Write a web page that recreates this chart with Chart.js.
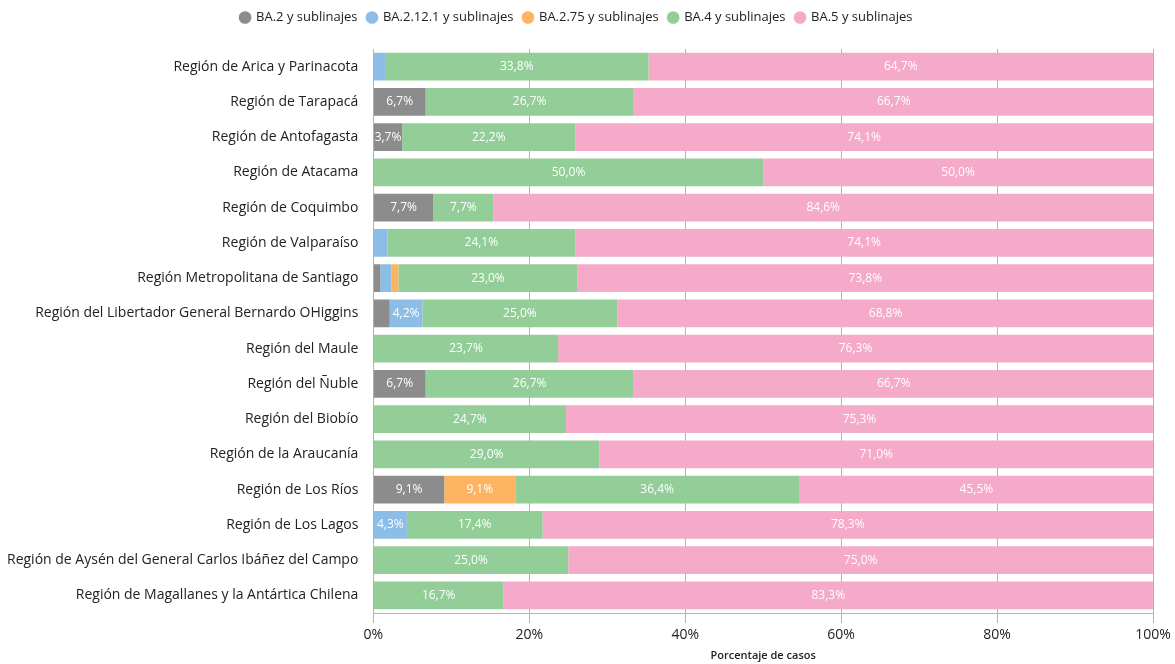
<!DOCTYPE html>
<html>
<head>
<meta charset="utf-8">
<script src="https://cdn.jsdelivr.net/npm/chart.js@4"></script>
<style>
  html, body { margin: 0; padding: 0; background: #fff; }
  #wrap { width: 1175px; height: 664px; }
</style>
</head>
<body>
<div id="wrap"><canvas id="variantChart"></canvas></div>
<script>
const regions = [
    'Región de Arica y Parinacota',
    'Región de Tarapacá',
    'Región de Antofagasta',
    'Región de Atacama',
    'Región de Coquimbo',
    'Región de Valparaíso',
    'Región Metropolitana de Santiago',
    'Región del Libertador General Bernardo OHiggins',
    'Región del Maule',
    'Región del Ñuble',
    'Región del Biobío',
    'Región de la Araucanía',
    'Región de Los Ríos',
    'Región de Los Lagos',
    'Región de Aysén del General Carlos Ibáñez del Campo',
    'Región de Magallanes y la Antártica Chilena'
];

const ba2 =     [0,   6.7, 3.7, 0,  7.7, 0,   0.9, 2.1, 0,    6.7, 0,    0,    9.1, 0,   0,  0];
const ba2121 =  [1.5, 0,   0,   0,  0,   1.8, 1.4, 4.2, 0,    0,   0,    0,    0,   4.3, 0,  0];
const ba275 =   [0,   0,   0,   0,  0,   0,   0.9, 0,   0,    0,   0,    0,    9.1, 0,   0,  0];
const ba4 =     [33.8, 26.7, 22.2, 50, 7.7, 24.1, 23.0, 25.0, 23.7, 26.7, 24.7, 29.0, 36.4, 17.4, 25, 16.7];
const ba5 =     [64.7, 66.7, 74.1, 50, 84.6, 74.1, 73.8, 68.8, 76.3, 66.7, 75.3, 71.0, 45.5, 78.3, 75, 83.3];

const xTicks = [0, 20, 40, 60, 80, 100];

const fontFamily = '"Open Sans", "Noto Sans", sans-serif';

// white percentage labels inside the wider segments
const segmentLabels = {
    id: 'segmentLabels',
    afterDatasetsDraw(chart) {
        const ctx = chart.ctx;
        ctx.save();
        ctx.font = '12px ' + fontFamily;
        ctx.fillStyle = '#ffffff';
        ctx.textAlign = 'center';
        ctx.textBaseline = 'middle';
        chart.data.datasets.forEach((ds, di) => {
            const meta = chart.getDatasetMeta(di);
            meta.data.forEach((bar, i) => {
                const v = ds.data[i];
                if (!v || v < 3) return;
                const txt = v.toFixed(1).replace('.', ',') + '%';
                const mid = (bar.x + bar.base) / 2;
                ctx.fillText(txt, mid, bar.y);
            });
        });
        ctx.restore();
    }
};

// a bit more room between the legend and the bars
const legendGap = {
    id: 'legendGap',
    beforeInit(chart) {
        const fit = chart.legend.fit;
        chart.legend.fit = function () {
            fit.bind(chart.legend)();
            this.height += 15;
        };
    }
};

const ctx = document.getElementById('variantChart').getContext('2d');
new Chart(ctx, {
    type: 'bar',
    data: {
        labels: regions,
        datasets: [
            { label: 'BA.2 y sublinajes', data: ba2, backgroundColor: '#8c8c8c' },
            { label: 'BA.2.12.1 y sublinajes', data: ba2121, backgroundColor: '#8bbde6' },
            { label: 'BA.2.75 y sublinajes', data: ba275, backgroundColor: '#fdb35f' },
            { label: 'BA.4 y sublinajes', data: ba4, backgroundColor: '#93cd97' },
            { label: 'BA.5 y sublinajes', data: ba5, backgroundColor: '#f4aac8' }
        ]
    },
    options: {
        indexAxis: 'y',
        responsive: true,
        maintainAspectRatio: false,
        animation: false,
        layout: { padding: { left: 0, right: 22, top: 1, bottom: 2 } },
        datasets: {
            bar: { barPercentage: 0.79, categoryPercentage: 1.0, borderWidth: 0 }
        },
        scales: {
            x: {
                stacked: true,
                min: 0,
                max: 100,
                afterBuildTicks: axis => { axis.ticks = xTicks.map(v => ({ value: v })); },
                ticks: {
                    callback: v => v + '%',
                    color: '#222',
                    font: { family: fontFamily, size: 14 },
                    padding: 4
                },
                grid: { color: '#b3b3b3', tickLength: 10, drawTicks: true },
                border: { display: true, color: '#b3b3b3' },
                title: {
                    display: true,
                    text: 'Porcentaje de casos',
                    color: '#222',
                    font: { family: fontFamily, size: 11, weight: '600' },
                    padding: { top: 1, bottom: 0 }
                }
            },
            y: {
                stacked: true,
                ticks: {
                    color: '#222',
                    font: { family: fontFamily, size: 14 },
                    padding: 7
                },
                grid: { display: false },
                border: { display: false }
            }
        },
        plugins: {
            legend: {
                position: 'top',
                labels: {
                    usePointStyle: true,
                    pointStyle: 'circle',
                    boxWidth: 9,
                    boxHeight: 9,
                    padding: 10,
                    color: '#222',
                    font: { family: fontFamily, size: 13 }
                }
            },
            tooltip: { enabled: false }
        }
    },
    plugins: [segmentLabels, legendGap]
});
</script>
</body>
</html>
